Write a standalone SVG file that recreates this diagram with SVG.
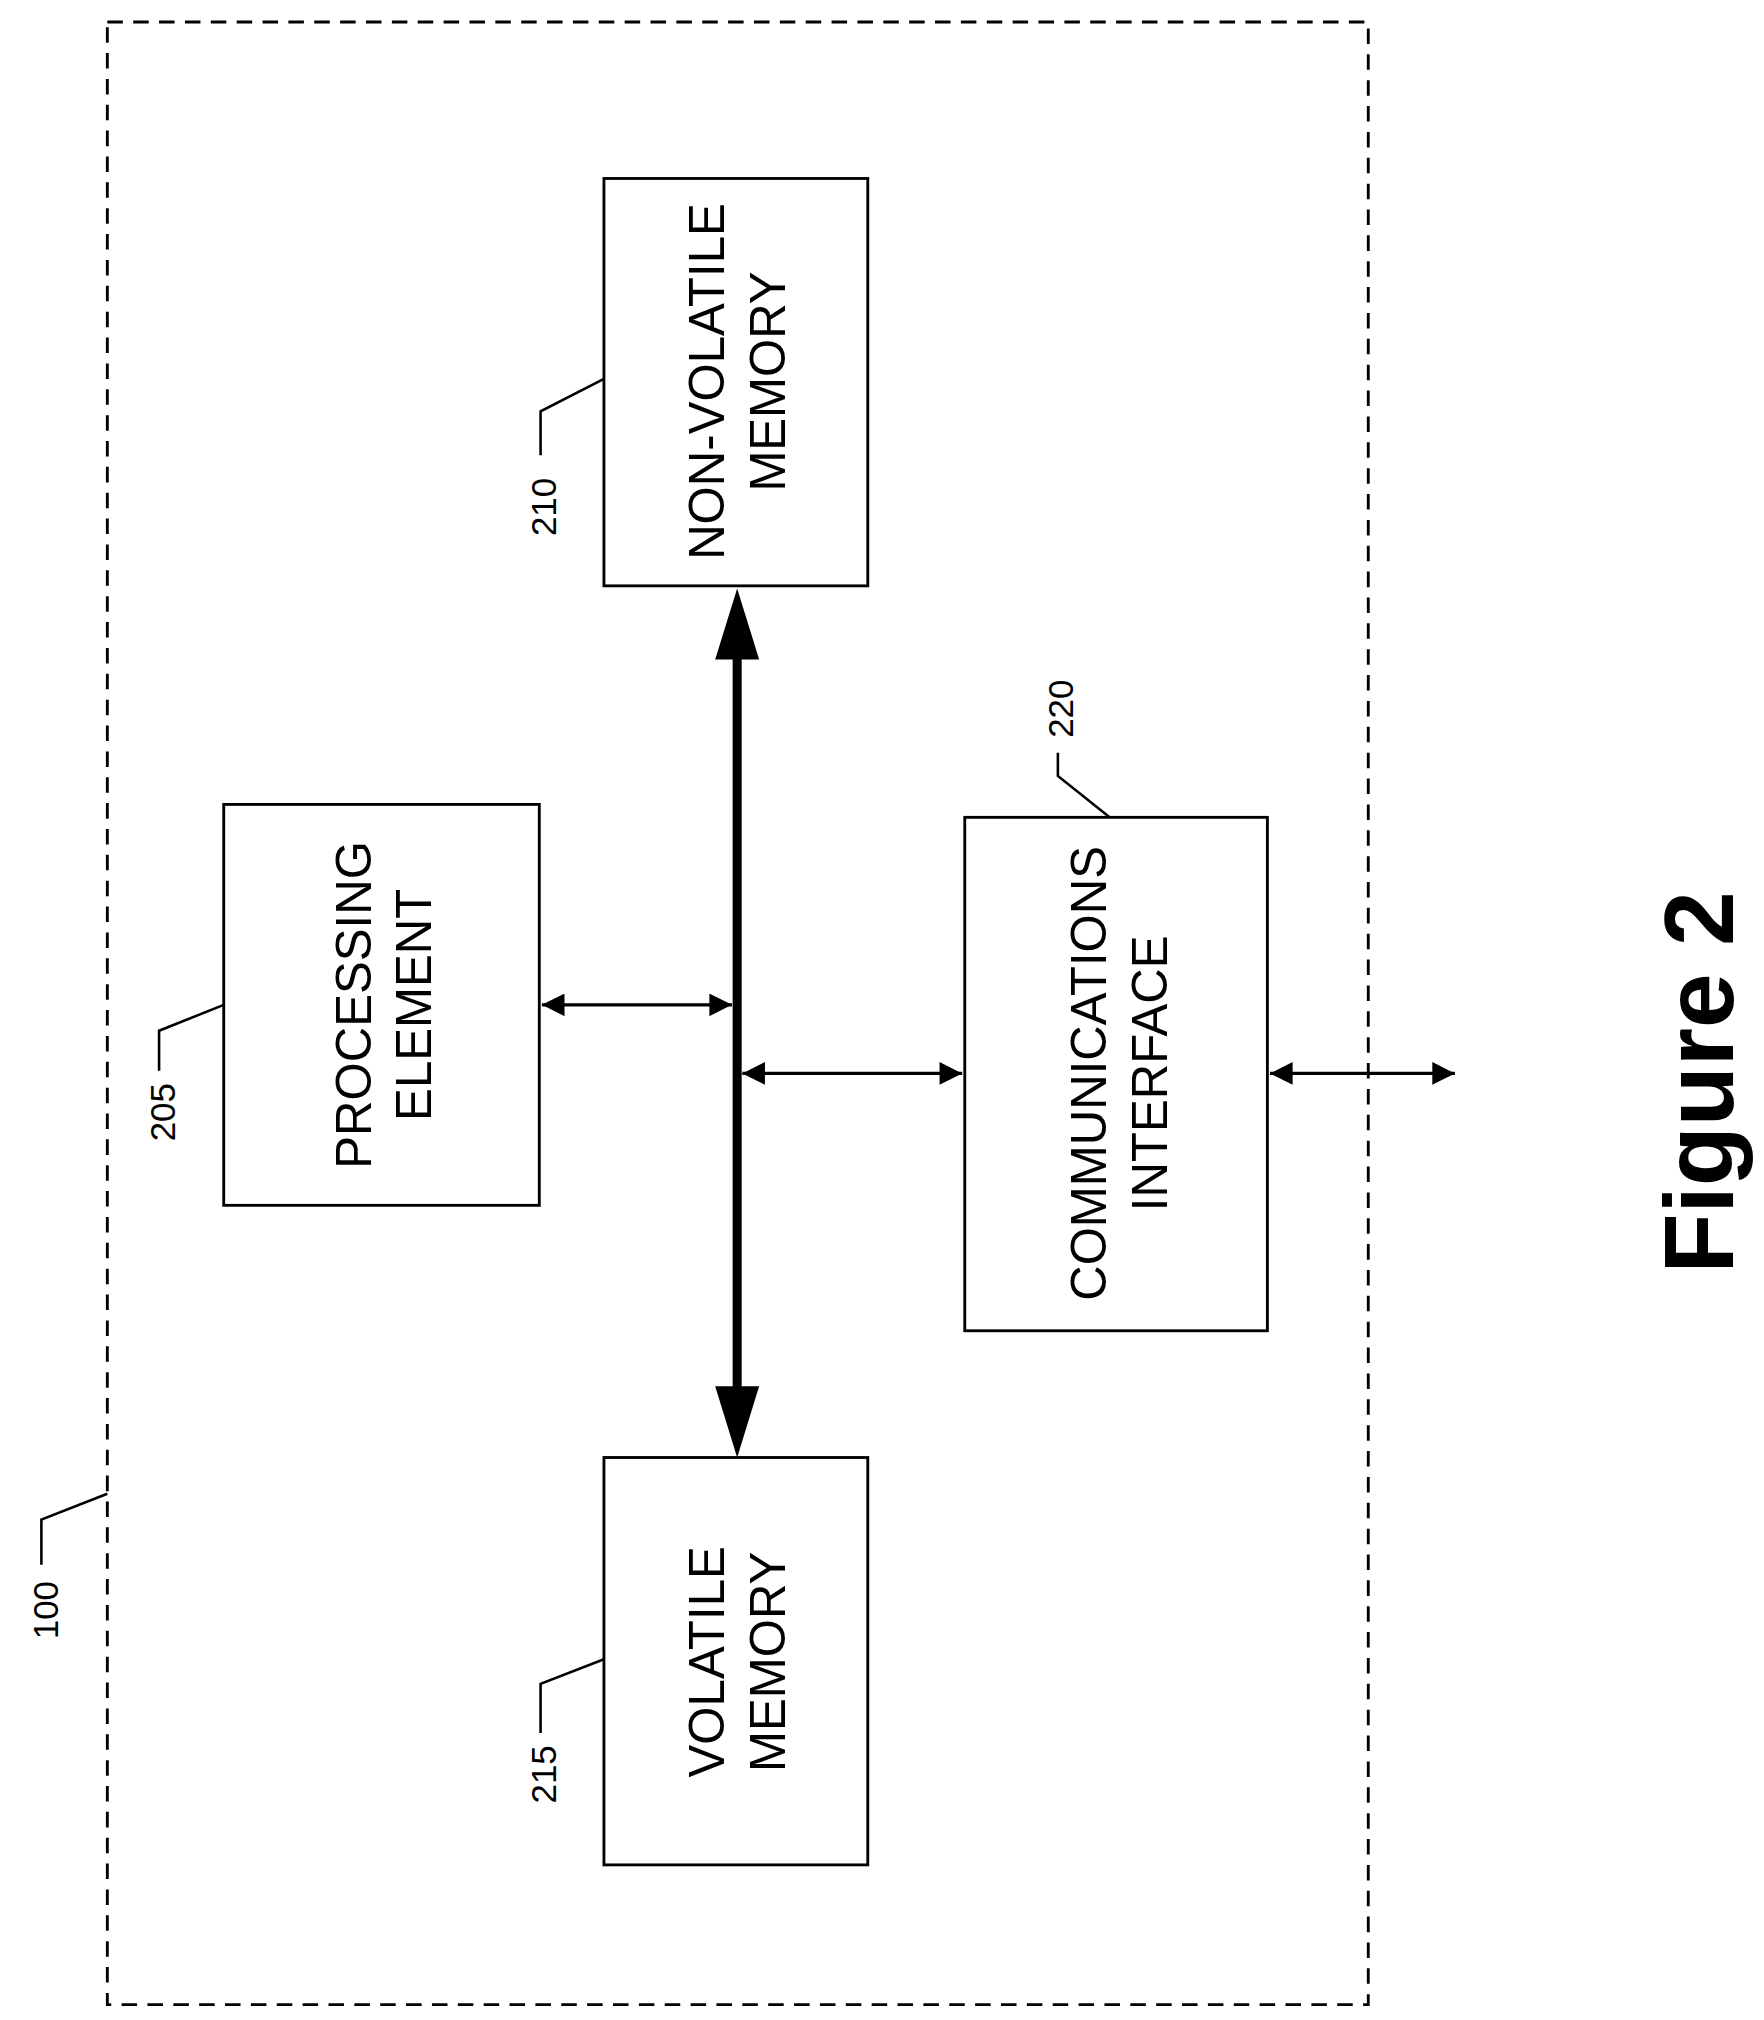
<svg xmlns="http://www.w3.org/2000/svg" width="1764" height="2020" viewBox="0 0 1764 2020">
<style>
.b{fill:#fff;stroke:#000;stroke-width:2.2}
.t{font-family:"Liberation Sans",Arial,sans-serif;font-size:38px;text-anchor:middle;fill:#000}
.l{font-family:"Liberation Sans",Arial,sans-serif;font-size:27px;text-anchor:middle;fill:#000}
.ld{fill:none;stroke:#000;stroke-width:2}
.c{stroke:#000;stroke-width:2.5;fill:none;marker-start:url(#a);marker-end:url(#a)}
</style>
<defs>
<marker id="a" viewBox="0 0 10 10" refX="10" refY="5" markerWidth="10" markerHeight="7" markerUnits="strokeWidth" orient="auto-start-reverse"><path d="M0,0 L10,5 L0,10 Z"/></marker>
</defs>
<rect width="1764" height="2020" fill="#fff"/>
<g transform="scale(1.29326)">
<g id="n100">
<rect x="83" y="17" width="975" height="1533" fill="none" stroke="#000" stroke-width="2.2" stroke-dasharray="12,8"/>
<text class="l" transform="translate(45,1245) rotate(-90)">100</text>
<polyline class="ld" points="32,1210 32,1175 83,1155"/>
</g>
<g id="n210">
<rect class="b" x="467" y="138" width="204" height="315"/>
<text class="t" transform="translate(560,295) rotate(-90)">NON-VOLATILE</text>
<text class="t" transform="translate(607,295) rotate(-90)">MEMORY</text>
<text class="l" transform="translate(430,392) rotate(-90)">210</text>
<polyline class="ld" points="418,352 418,318 467,293"/>
</g>
<g id="n205">
<rect class="b" x="173" y="622" width="244" height="310"/>
<text class="t" transform="translate(287,777) rotate(-90)">PROCESSING</text>
<text class="t" transform="translate(333,777) rotate(-90)">ELEMENT</text>
<text class="l" transform="translate(135,860) rotate(-90)">205</text>
<polyline class="ld" points="123,828 123,797 173,777"/>
</g>
<g id="n220">
<rect class="b" x="746" y="632" width="234" height="397"/>
<text class="t" transform="translate(855,830) rotate(-90)">COMMUNICATIONS</text>
<text class="t" transform="translate(902,830) rotate(-90)">INTERFACE</text>
<text class="l" transform="translate(830,548) rotate(-90)">220</text>
<polyline class="ld" points="818,582 818,600 858,632"/>
</g>
<g id="n215">
<rect class="b" x="467" y="1127" width="204" height="315"/>
<text class="t" transform="translate(560,1285) rotate(-90)">VOLATILE</text>
<text class="t" transform="translate(607,1285) rotate(-90)">MEMORY</text>
<text class="l" transform="translate(430,1372) rotate(-90)">215</text>
<polyline class="ld" points="418,1340 418,1302 467,1283"/>
</g>
<g id="connectors">
<line x1="570" y1="505" x2="570" y2="1077" stroke="#000" stroke-width="7"/>
<polygon points="570,455 553,510 587,510"/>
<polygon points="570,1127 553,1072 587,1072"/>
<line class="c" x1="419" y1="777" x2="566" y2="777"/>
<line class="c" x1="574" y1="830" x2="744" y2="830"/>
<line class="c" x1="982" y1="830" x2="1125" y2="830"/>
</g>
<text transform="translate(1340,837) rotate(-90)" font-family="Liberation Sans,Arial,sans-serif" font-weight="bold" font-size="76" text-anchor="middle">Figure 2</text>
</g>
</svg>
